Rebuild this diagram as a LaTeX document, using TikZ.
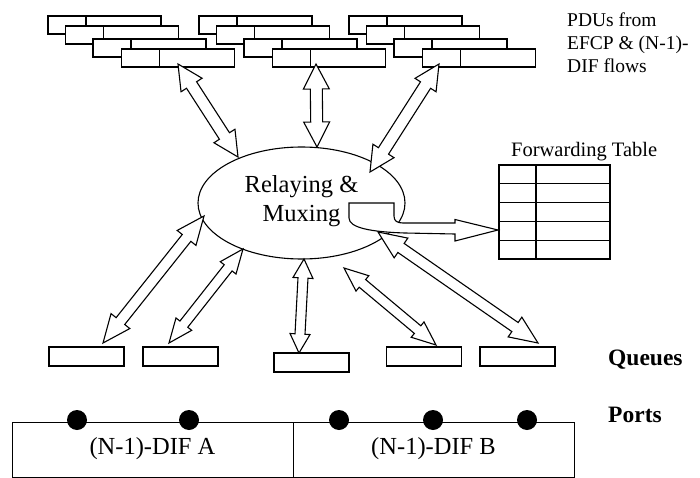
\documentclass[tikz,border=0pt]{standalone}
\usepackage{fontspec}
\setmainfont{Liberation Serif}
\usetikzlibrary{calc,shapes.geometric}

\tikzset{
  lw/.style={line width=1.1pt},
  blockarrow/.style={lw, draw=black, fill=white, line join=miter},
  pdubox/.style={lw, draw=black, fill=white},
  queuebox/.style={lw, draw=black, fill=white, minimum width=75pt, minimum height=19pt, inner sep=0pt},
  difbox/.style={lw, draw=black, minimum width=281pt, minimum height=55pt, inner sep=0pt, anchor=north west},
  txt/.style={inner sep=0pt, anchor=base},
  bigtxt/.style={txt, font=\fontsize{24.5}{29}\selectfont},
  midtxt/.style={inner sep=0pt, anchor=base west, font=\fontsize{19.5}{23}\selectfont},
  boldtxt/.style={inner sep=0pt, anchor=base west, font=\bfseries\fontsize{23.5}{27}\selectfont},
  port/.style={fill=black},
  tablecell/.style={lw, draw=black},
}

% double-headed hollow block arrow: #1 end A, #2 end B, #3 head length, #4 head half width, #5 shaft half width
\newcommand\dblarr[5]{%
 \draw[blockarrow] (#1)
  -- ($(#1)!#3!(#2)!#4!90:(#2)$)
  -- ($(#1)!#3!(#2)!#5!90:(#2)$)
  -- ($(#2)!#3!(#1)!#5!-90:(#1)$)
  -- ($(#2)!#3!(#1)!#4!-90:(#1)$)
  -- (#2)
  -- ($(#2)!#3!(#1)!#4!90:(#1)$)
  -- ($(#2)!#3!(#1)!#5!90:(#1)$)
  -- ($(#1)!#3!(#2)!#5!-90:(#2)$)
  -- ($(#1)!#3!(#2)!#4!-90:(#2)$)
  -- cycle;}

% one PDU record, top-left corner (x,y)
\newcommand\pdurec[2]{%
  \draw[pdubox] (#1,#2) rectangle ++(113,18);
  \draw[lw] (#1+38,#2) -- ++(0,18);}

\newcommand\pdugroup[1]{%
  \pdurec{#1}{16}
  \pdurec{#1+17.5}{26}
  \pdurec{#1+45}{39}
  \pdurec{#1+73.5}{49}}

\begin{document}
\begin{tikzpicture}[x=1pt,y=-1pt]
\useasboundingbox (0,0) rectangle (700,478);

% PDU stacks
\pdugroup{48}
\pdugroup{199}
\pdugroup{349}

\node[midtxt] (pdu1) at (567,27) {PDUs from};
\node[midtxt] (pdu2) at (567,50) {EFCP \& (N-1)-};
\node[midtxt] (pdu3) at (567,73) {DIF flows};

% Relaying and muxing ellipse
\node[lw, draw=black, fill=white, ellipse, minimum width=207pt, minimum height=112pt, inner sep=0pt] (relay) at (301.5,203) {};
\node[bigtxt] (rel1) at (301.5,193) {Relaying \&};
\node[bigtxt] (rel2) at (301.5,222) {Muxing};

% Forwarding table
\node[midtxt, font=\fontsize{20.5}{24}\selectfont] (fwdlabel) at (511,157) {Forwarding Table};
\foreach \r in {0,...,4}{
  \draw[tablecell] (499,165+18.8*\r) rectangle (536,165+18.8*\r+18.8);
  \draw[tablecell] (536,165+18.8*\r) rectangle (610,165+18.8*\r+18.8);
}
\coordinate (fwdtip) at (498,230);

% forwarding arrow
\draw[blockarrow]
  (349,203) -- (394,203) -- (394,216)
  .. controls (394,221) and (397,223) .. (403,223)
  -- (455,223) -- (455,219.5) -- (fwdtip) -- (455,241) -- (455,234)
  -- (405,233)
  .. controls (372,232) and (349,228) .. (349,218) -- cycle;

% queues
\node[queuebox] (q1) at (86.5,356.5) {};
\node[queuebox] (q2) at (180.5,356.5) {};
\node[queuebox] (q3) at (311.5,362.5) {};
\node[queuebox] (q4) at (424,356.5) {};
\node[queuebox] (q5) at (517.5,356.5) {};

% arrow end points
\coordinate (a1t) at (178,64);  \coordinate (a1b) at (238,157);
\coordinate (a2t) at (316,64);  \coordinate (a2b) at (317,147);
\coordinate (a3t) at (439,64);  \coordinate (a3b) at (370,172);
\coordinate (b1t) at (204,216); \coordinate (b1b) at (103,343);
\coordinate (b2t) at (243,249); \coordinate (b2b) at (169,343);
\coordinate (b3t) at (304,259); \coordinate (b3b) at (299,353);
\coordinate (b4t) at (344,268); \coordinate (b4b) at (436,345);
\coordinate (b5t) at (378,232); \coordinate (b5b) at (538,343);

\dblarr{a1t}{a1b}{25pt}{12.5pt}{6pt}
\dblarr{a2t}{a2b}{25pt}{13pt}{6pt}
\dblarr{a3t}{a3b}{25pt}{12.5pt}{6pt}
\dblarr{b1t}{b1b}{28pt}{12pt}{5.5pt}
\dblarr{b2t}{b2b}{24pt}{10pt}{5pt}
\dblarr{b3t}{b3b}{19pt}{10pt}{5pt}
\dblarr{b4t}{b4b}{24pt}{10pt}{5pt}
\dblarr{b5t}{b5b}{28pt}{12pt}{5.5pt}

% labels on the right
\node[boldtxt] (queues) at (608,365) {Queues};
\node[boldtxt] (ports) at (608,422) {Ports};

% (N-1)-DIFs
\node[difbox] (difA) at (12,422) {};
\node[difbox] (difB) at (293,422) {};
\node[bigtxt] (difAt) at (152.5,454) {(N-1)-DIF A};
\node[bigtxt] (difBt) at (433.5,454) {(N-1)-DIF B};

% ports
\foreach \px/\nm in {77/p1,189/p2,339/p3,433/p4,527/p5}{
  \fill[port] (\px,420) circle (10pt) coordinate (\nm);
}
\end{tikzpicture}
\end{document}
